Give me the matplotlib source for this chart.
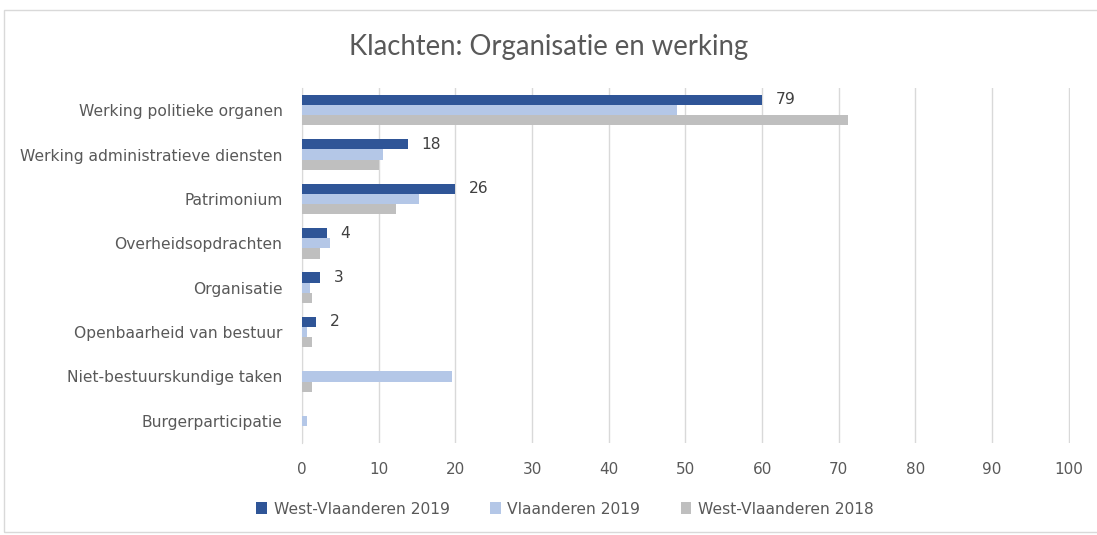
import matplotlib
matplotlib.use("Agg")
import matplotlib.pyplot as plt
from matplotlib.patches import Rectangle
import numpy as np

categories = ["Werking politieke organen", "Werking administratieve diensten", "Patrimonium",
              "Overheidsopdrachten", "Organisatie", "Openbaarheid van bestuur",
              "Niet-bestuurskundige taken", "Burgerparticipatie"]
wvl2019 = [60.0, 13.8, 19.9, 3.2, 2.4, 1.8, 0.0, 0.0]
vl2019 = [48.9, 10.5, 15.3, 3.6, 1.1, 0.65, 19.5, 0.7]
wvl2018 = [71.2, 10.0, 12.3, 2.4, 1.35, 1.35, 1.35, 0.0]
wvl2019_labels = ["79", "18", "26", "4", "3", "2", "", ""]
series_names = ["West-Vlaanderen 2019", "Vlaanderen 2019", "West-Vlaanderen 2018"]
xticks = [0, 10, 20, 30, 40, 50, 60, 70, 80, 90, 100]

colors = ["#2F5597", "#B4C7E7", "#BFBFBF"]
text_color = "#595959"
lab_font = "DejaVu Sans"

fig = plt.figure(figsize=(10.97, 5.35), dpi=100)
fig.patches.append(Rectangle((4 / 1097, 3 / 535), 1.0, 522 / 535, transform=fig.transFigure,
                             fill=False, edgecolor="#D9D9D9", linewidth=1))
ax = fig.add_axes([302 / 1097, 1 - 443 / 535, 768 / 1097, 355 / 535])

y = np.arange(len(categories))
h = 0.23
for i, (vals, c, name) in enumerate(zip([wvl2019, vl2019, wvl2018], colors, series_names)):
    ax.barh(y + (i - 1) * h, vals, height=h, color=c, label=name, zorder=3)

for yi, v, lab in zip(y, wvl2019, wvl2019_labels):
    if lab:
        ax.text(v + 1.8, yi - h, lab, va="center", ha="left", fontsize=11.2,
                color="#404040", family=lab_font)

ax.set_ylim(len(categories) - 0.5, -0.5)
ax.set_xlim(0, 100.15)
ax.set_xticks(xticks)
ax.set_yticks(y)
ax.set_yticklabels(categories, fontsize=11.2, color=text_color, family=lab_font)
ax.set_xticklabels([str(t) for t in xticks], fontsize=11, color=text_color, family=lab_font)
ax.tick_params(axis="both", length=0)
ax.tick_params(axis="x", pad=14)
ax.tick_params(axis="y", pad=14)
ax.grid(axis="x", color="#D9D9D9", linewidth=1, zorder=0)
for s in ["top", "right", "bottom"]:
    ax.spines[s].set_visible(False)
ax.spines["left"].set_color("#D9D9D9")

fig.text(0.5, 1 - 47 / 535, "Klachten: Organisatie en werking", ha="center", va="center",
         fontsize=19.8, color=text_color, family="Lato")

fig.legend(loc="center", bbox_to_anchor=(0.515, 1 - 509 / 535), ncol=3, frameon=False,
           handlelength=0.7, handleheight=0.8, handletextpad=0.4, columnspacing=2.6,
           prop={"family": lab_font, "size": 11.2}, labelcolor=text_color)

fig.savefig("out.png", dpi=100)
